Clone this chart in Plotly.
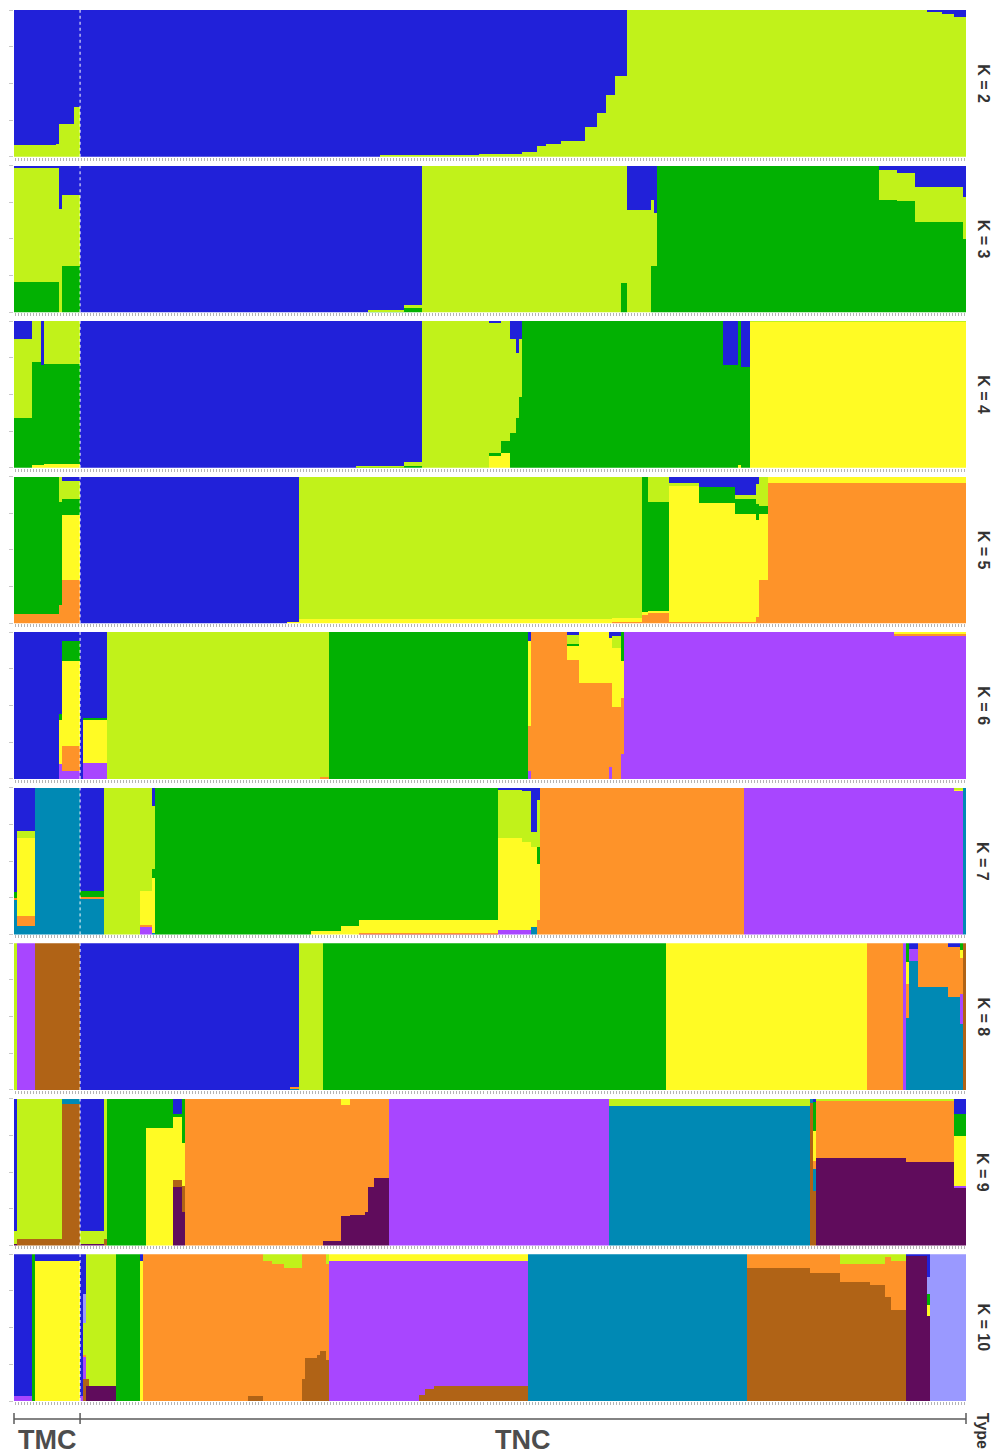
import plotly.graph_objects as go
from plotly.subplots import make_subplots

# ---------------- data ----------------
n_tmc = 22
n_tnc = 295
group_labels = ["TMC", "TNC"]
k_values = [2, 3, 4, 5, 6, 7, 8, 9, 10]

# stacking order, bottom -> top
cluster_order = ["dpurple", "brown", "teal", "purple", "orange",
                 "yellow", "green", "lime", "lavender", "blue"]
cluster_colors = {
    "blue": "#2121D9", "lime": "#C1F21A", "green": "#02B102",
    "yellow": "#FFFB24", "orange": "#FE9329", "purple": "#A846FF",
    "teal": "#0089B4", "brown": "#B06316", "dpurple": "#600C5C",
    "lavender": "#9A99FF",
}

# run-length blocks: (number of individuals, ancestry proportions)
blocks_k2 = [
    (14, {"lime": 0.08, "blue": 0.92}),
    (1, {"lime": 0.09, "blue": 0.91}),
    (5, {"lime": 0.22, "blue": 0.78}),
    (2, {"lime": 0.34, "blue": 0.66}),
    (100, {"blue": 1.0}),
    (33, {"lime": 0.01, "blue": 0.99}),
    (14, {"lime": 0.02, "blue": 0.98}),
    (5, {"lime": 0.03, "blue": 0.97}),
    (3, {"lime": 0.07, "blue": 0.93}),
    (5, {"lime": 0.09, "blue": 0.91}),
    (8, {"lime": 0.11, "blue": 0.89}),
    (4, {"lime": 0.20, "blue": 0.80}),
    (3, {"lime": 0.30, "blue": 0.70}),
    (3, {"lime": 0.42, "blue": 0.58}),
    (4, {"lime": 0.55, "blue": 0.45}),
    (100, {"lime": 1.0}),
    (5, {"lime": 0.99, "blue": 0.01}),
    (4, {"lime": 0.97, "blue": 0.03}),
    (4, {"lime": 0.95, "blue": 0.05}),
]

blocks_k3 = [
    (15, {"green": 0.21, "lime": 0.78, "blue": 0.01}),
    (1, {"lime": 0.71, "blue": 0.29}),
    (6, {"green": 0.32, "lime": 0.48, "blue": 0.20}),
    (96, {"blue": 1.0}),
    (12, {"green": 0.01, "lime": 0.01, "blue": 0.98}),
    (6, {"green": 0.03, "lime": 0.02, "blue": 0.95}),
    (66, {"lime": 1.0}),
    (2, {"green": 0.20, "lime": 0.80}),
    (8, {"lime": 0.70, "blue": 0.30}),
    (1, {"green": 0.32, "lime": 0.45, "blue": 0.23}),
    (1, {"green": 0.32, "lime": 0.36, "blue": 0.32}),
    (74, {"green": 1.0}),
    (6, {"green": 0.77, "lime": 0.20, "blue": 0.03}),
    (6, {"green": 0.76, "lime": 0.19, "blue": 0.05}),
    (16, {"green": 0.62, "lime": 0.24, "blue": 0.14}),
    (1, {"green": 0.50, "lime": 0.29, "blue": 0.21}),
]

blocks_k4 = [
    (6, {"green": 0.34, "lime": 0.54, "blue": 0.12}),
    (3, {"yellow": 0.02, "green": 0.70, "lime": 0.28}),
    (1, {"yellow": 0.02, "green": 0.68, "blue": 0.30}),
    (12, {"yellow": 0.025, "green": 0.685, "lime": 0.29}),
    (92, {"blue": 1.0}),
    (16, {"green": 0.005, "lime": 0.01, "blue": 0.985}),
    (6, {"green": 0.01, "lime": 0.03, "blue": 0.96}),
    (22, {"lime": 1.0}),
    (4, {"yellow": 0.08, "green": 0.02, "lime": 0.89, "blue": 0.01}),
    (3, {"yellow": 0.10, "green": 0.08, "lime": 0.82}),
    (2, {"green": 0.24, "lime": 0.64, "blue": 0.12}),
    (1, {"green": 0.34, "lime": 0.44, "blue": 0.22}),
    (1, {"green": 0.48, "lime": 0.40, "blue": 0.12}),
    (67, {"green": 1.0}),
    (5, {"green": 0.70, "blue": 0.30}),
    (1, {"yellow": 0.02, "green": 0.98}),
    (3, {"green": 0.69, "blue": 0.31}),
    (72, {"yellow": 0.995, "lime": 0.005}),
]

blocks_k5 = [
    (15, {"orange": 0.064, "green": 0.936}),
    (1, {"orange": 0.13, "green": 0.70, "lime": 0.17}),
    (6, {"orange": 0.30, "yellow": 0.44, "green": 0.11, "lime": 0.12, "blue": 0.03}),
    (69, {"blue": 1.0}),
    (4, {"yellow": 0.015, "blue": 0.985}),
    (104, {"yellow": 0.035, "lime": 0.965}),
    (10, {"orange": 0.01, "yellow": 0.03, "lime": 0.96}),
    (2, {"orange": 0.06, "yellow": 0.02, "green": 0.92}),
    (7, {"orange": 0.07, "yellow": 0.02, "green": 0.74, "lime": 0.17}),
    (10, {"orange": 0.01, "yellow": 0.93, "lime": 0.02, "blue": 0.04}),
    (12, {"orange": 0.01, "yellow": 0.81, "green": 0.11, "blue": 0.07}),
    (7, {"orange": 0.01, "yellow": 0.74, "green": 0.10, "lime": 0.03, "blue": 0.12}),
    (1, {"orange": 0.045, "yellow": 0.66, "green": 0.11, "lime": 0.14, "blue": 0.045}),
    (3, {"orange": 0.30, "yellow": 0.45, "green": 0.05, "lime": 0.20}),
    (66, {"orange": 0.96, "yellow": 0.04}),
]

blocks_k6 = [
    (15, {"blue": 1.0}),
    (1, {"purple": 0.10, "yellow": 0.30, "green": 0.04, "blue": 0.56}),
    (6, {"purple": 0.05, "orange": 0.17, "yellow": 0.58, "green": 0.14, "blue": 0.06}),
    (1, {"blue": 1.0}),
    (8, {"purple": 0.107, "yellow": 0.30, "green": 0.01, "blue": 0.583}),
    (71, {"lime": 1.0}),
    (3, {"orange": 0.015, "lime": 0.985}),
    (66, {"green": 1.0}),
    (1, {"purple": 0.05, "orange": 0.31, "yellow": 0.58, "blue": 0.06}),
    (12, {"orange": 1.0}),
    (4, {"orange": 0.81, "yellow": 0.10, "green": 0.01, "lime": 0.06, "blue": 0.02}),
    (10, {"orange": 0.65, "yellow": 0.35}),
    (1, {"purple": 0.08, "orange": 0.57, "yellow": 0.31, "blue": 0.04}),
    (3, {"orange": 0.49, "yellow": 0.40, "lime": 0.08, "blue": 0.03}),
    (1, {"purple": 0.17, "orange": 0.38, "yellow": 0.25, "green": 0.20}),
    (90, {"purple": 1.0}),
    (24, {"purple": 0.975, "orange": 0.015, "yellow": 0.01}),
]

blocks_k7 = [
    (1, {"teal": 0.235, "orange": 0.016, "green": 0.04, "blue": 0.709}),
    (6, {"teal": 0.057, "orange": 0.07, "yellow": 0.53, "lime": 0.05, "blue": 0.293}),
    (15, {"teal": 1.0}),
    (8, {"teal": 0.25, "orange": 0.01, "green": 0.04, "blue": 0.70}),
    (12, {"lime": 1.0}),
    (4, {"purple": 0.05, "orange": 0.015, "yellow": 0.235, "lime": 0.70}),
    (1, {"teal": 0.01, "yellow": 0.38, "green": 0.06, "lime": 0.43, "blue": 0.12}),
    (52, {"green": 1.0}),
    (10, {"yellow": 0.025, "green": 0.975}),
    (6, {"yellow": 0.06, "green": 0.94}),
    (46, {"purple": 0.005, "orange": 0.005, "yellow": 0.09, "green": 0.90}),
    (8, {"purple": 0.03, "yellow": 0.63, "lime": 0.33, "blue": 0.01}),
    (3, {"purple": 0.03, "yellow": 0.60, "lime": 0.35, "blue": 0.02}),
    (2, {"teal": 0.05, "yellow": 0.55, "lime": 0.10, "blue": 0.30}),
    (1, {"orange": 0.10, "yellow": 0.38, "green": 0.12, "lime": 0.32, "blue": 0.08}),
    (68, {"orange": 1.0}),
    (70, {"purple": 1.0}),
    (3, {"purple": 0.98, "yellow": 0.01, "lime": 0.01}),
    (1, {"teal": 1.0}),
]

blocks_k8 = [
    (1, {"lime": 1.0}),
    (6, {"purple": 1.0}),
    (15, {"brown": 1.0}),
    (70, {"blue": 1.0}),
    (3, {"teal": 0.01, "orange": 0.01, "blue": 0.98}),
    (8, {"lime": 1.0}),
    (114, {"green": 1.0}),
    (67, {"yellow": 1.0}),
    (12, {"orange": 1.0}),
    (1, {"purple": 1.0}),
    (1, {"teal": 0.49, "orange": 0.23, "yellow": 0.15, "green": 0.13}),
    (3, {"teal": 0.875, "purple": 0.085, "blue": 0.04}),
    (10, {"teal": 0.70, "orange": 0.30}),
    (4, {"teal": 0.63, "orange": 0.34, "blue": 0.03}),
    (1, {"teal": 0.45, "purple": 0.20, "orange": 0.25, "yellow": 0.05, "green": 0.05}),
    (1, {"brown": 1.0}),
]

blocks_k9 = [
    (1, {"dpurple": 0.015, "lime": 0.085, "blue": 0.90}),
    (15, {"brown": 0.045, "lime": 0.955}),
    (6, {"brown": 0.966, "teal": 0.034}),
    (8, {"dpurple": 0.01, "lime": 0.09, "blue": 0.90}),
    (1, {"brown": 0.045, "lime": 0.955}),
    (13, {"green": 1.0}),
    (9, {"yellow": 0.80, "green": 0.20}),
    (3, {"dpurple": 0.40, "brown": 0.05, "yellow": 0.43, "green": 0.02, "blue": 0.10}),
    (1, {"dpurple": 0.23, "brown": 0.18, "yellow": 0.29, "green": 0.30}),
    (46, {"orange": 1.0}),
    (6, {"dpurple": 0.03, "orange": 0.97}),
    (3, {"dpurple": 0.20, "orange": 0.76, "yellow": 0.04}),
    (5, {"dpurple": 0.21, "orange": 0.79}),
    (1, {"dpurple": 0.23, "orange": 0.77}),
    (2, {"dpurple": 0.40, "orange": 0.60}),
    (5, {"dpurple": 0.465, "orange": 0.535}),
    (73, {"purple": 1.0}),
    (67, {"teal": 0.95, "lime": 0.05}),
    (1, {"brown": 0.97, "teal": 0.03}),
    (1, {"brown": 0.37, "teal": 0.15, "orange": 0.06, "yellow": 0.20, "green": 0.20, "blue": 0.02}),
    (30, {"dpurple": 0.60, "orange": 0.39, "lime": 0.01}),
    (16, {"dpurple": 0.57, "orange": 0.42, "lime": 0.01}),
    (4, {"dpurple": 0.40, "purple": 0.01, "yellow": 0.34, "green": 0.15, "blue": 0.10}),
]

blocks_k10 = [
    (6, {"purple": 0.034, "blue": 0.966}),
    (1, {"green": 1.0}),
    (15, {"yellow": 0.955, "blue": 0.045}),
    (1, {"purple": 0.03, "blue": 0.97}),
    (1, {"brown": 0.15, "purple": 0.15, "orange": 0.01, "lime": 0.22, "lavender": 0.20, "blue": 0.27}),
    (1, {"dpurple": 0.10, "brown": 0.05, "lime": 0.85}),
    (9, {"dpurple": 0.10, "lime": 0.90}),
    (8, {"green": 1.0}),
    (1, {"yellow": 0.955, "blue": 0.045}),
    (35, {"orange": 1.0}),
    (5, {"brown": 0.03, "orange": 0.97}),
    (3, {"orange": 0.955, "lime": 0.045}),
    (4, {"orange": 0.93, "lime": 0.07}),
    (6, {"orange": 0.905, "lime": 0.095}),
    (1, {"brown": 0.15, "orange": 0.85}),
    (4, {"brown": 0.29, "orange": 0.71}),
    (1, {"brown": 0.31, "orange": 0.69}),
    (2, {"brown": 0.34, "orange": 0.66}),
    (1, {"brown": 0.28, "orange": 0.65, "lime": 0.07}),
    (30, {"purple": 0.955, "yellow": 0.045}),
    (2, {"brown": 0.04, "purple": 0.915, "yellow": 0.045}),
    (3, {"brown": 0.08, "purple": 0.875, "yellow": 0.045}),
    (31, {"brown": 0.10, "purple": 0.855, "yellow": 0.045}),
    (73, {"teal": 1.0}),
    (21, {"brown": 0.905, "orange": 0.095}),
    (10, {"brown": 0.87, "orange": 0.13}),
    (10, {"brown": 0.81, "orange": 0.12, "lime": 0.07}),
    (5, {"brown": 0.79, "orange": 0.14, "lime": 0.07}),
    (2, {"brown": 0.71, "orange": 0.27, "lime": 0.02}),
    (5, {"brown": 0.62, "orange": 0.33, "lime": 0.05}),
    (7, {"dpurple": 0.985, "blue": 0.015}),
    (1, {"dpurple": 0.575, "green": 0.07, "yellow": 0.08, "lavender": 0.12, "blue": 0.155}),
    (12, {"lavender": 1.0}),
]

all_blocks = [blocks_k2, blocks_k3, blocks_k4, blocks_k5, blocks_k6,
              blocks_k7, blocks_k8, blocks_k9, blocks_k10]

# ---------------- figure ----------------
N = n_tmc + n_tnc
x_idx = list(range(N))
n_rows = len(k_values)

# page body has an 8px margin: the figure is drawn at (8, 8)
FIG_W, FIG_H = 996, 1446
M_L, M_R, M_T, M_B = 6, 38, 2, 53

fig = make_subplots(rows=n_rows, cols=1, vertical_spacing=0.0063)

label_font = dict(family="Liberation Sans, Arial", size=16, color="#333333")

for r, (k, blocks) in enumerate(zip(k_values, all_blocks), start=1):
    per_ind = []
    for count, comp in blocks:
        s = sum(comp.values())
        for _ in range(count):
            per_ind.append({c: v / s for c, v in comp.items()})
    per_ind = per_ind[:N]
    for c in cluster_order:
        ys = [d.get(c) if d.get(c) else None for d in per_ind]
        if all(v is None for v in ys):
            continue
        fig.add_trace(go.Bar(
            x=x_idx, y=ys, width=1.0,
            marker=dict(color=cluster_colors[c], line=dict(width=0)),
            showlegend=False, hoverinfo="skip", name=c,
        ), row=r, col=1)
    # TMC / TNC separator
    fig.add_vline(x=n_tmc - 0.5, line=dict(color="white", width=1, dash="dot"),
                  row=r, col=1)
    yref = "y domain" if r == 1 else f"y{r} domain"
    fig.add_annotation(x=1.018, xref="paper", y=0.5, yref=yref,
                       text=f"<b>K = {k}</b>", textangle=90, showarrow=False,
                       xanchor="center", yanchor="middle", font=label_font)

fig.update_layout(
    width=FIG_W, height=FIG_H,
    margin=dict(l=M_L, r=M_R, t=M_T, b=M_B),
    plot_bgcolor="white", paper_bgcolor="white",
    barmode="stack", bargap=0, showlegend=False,
)
fig.update_xaxes(range=[-0.5, N - 0.5], tickvals=x_idx, ticks="outside",
                 ticklen=3, tickwidth=1, tickcolor="#b4b4b4",
                 showticklabels=False, showgrid=False, zeroline=False,
                 showline=False)
fig.update_yaxes(range=[0, 1], tickvals=[0, 0.25, 0.5, 0.75, 1],
                 ticks="outside", ticklen=4, tickcolor="#c8c8c8",
                 showticklabels=False, showgrid=False, zeroline=False,
                 showline=False)

# bottom "Type" bracket (positions given in page pixels)
plot_h = FIG_H - M_T - M_B
plot_bottom_page = 8 + FIG_H - M_B
def py(px):
    return (plot_bottom_page - px) / plot_h

x_sep = n_tmc / N
line_col = "#5a5a5a"
fig.add_shape(type="line", xref="paper", yref="paper", x0=0, x1=1,
              y0=py(1419), y1=py(1419), line=dict(color=line_col, width=1.5))
for xv in [0, x_sep, 1]:
    fig.add_shape(type="line", xref="paper", yref="paper", x0=xv, x1=xv,
                  y0=py(1413), y1=py(1424), line=dict(color=line_col, width=1.5))

big_font = dict(family="Liberation Sans, Arial", size=27, color="#4d4d4d")
fig.add_annotation(x=x_sep / 2, xref="paper", y=py(1440), yref="paper",
                   text=f"<b>{group_labels[0]}</b>", showarrow=False,
                   xanchor="center", yanchor="middle", font=big_font)
fig.add_annotation(x=(x_sep + 1) / 2, xref="paper", y=py(1440), yref="paper",
                   text=f"<b>{group_labels[1]}</b>", showarrow=False,
                   xanchor="center", yanchor="middle", font=big_font)
fig.add_annotation(x=1.018, xref="paper", y=py(1431), yref="paper",
                   text="<b>Type</b>", textangle=90, showarrow=False,
                   xanchor="center", yanchor="middle", font=label_font)

fig.write_html("out.html")
